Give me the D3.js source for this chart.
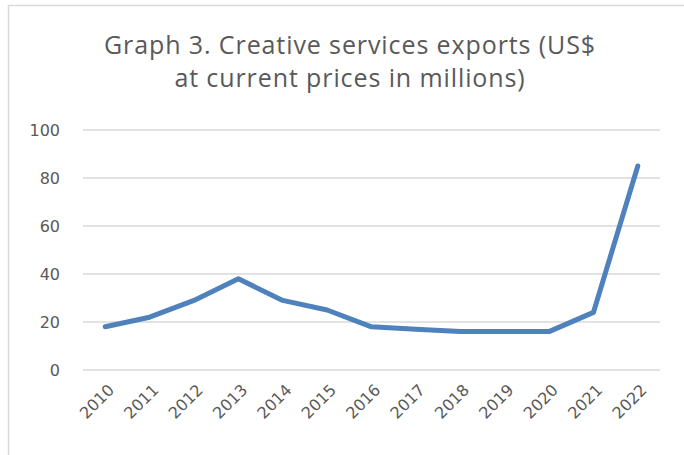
<!DOCTYPE html>
<html>
<head>
<meta charset="utf-8">
<script src="https://cdn.jsdelivr.net/npm/d3@7"></script>
<style>
  html, body { margin: 0; padding: 0; background: #fff; }
  svg { display: block; }
</style>
</head>
<body>
<svg id="chart" width="684" height="455"></svg>
<script>
// Creative services exports, US$ millions at current prices
const years = ["2010","2011","2012","2013","2014","2015","2016","2017","2018","2019","2020","2021","2022"];
const exportsUSD = [18, 22, 29, 38, 29, 25, 18, 17, 16, 16, 16, 24, 85];
const yTicks = [0, 20, 40, 60, 80, 100];
const titleLines = ["Graph 3. Creative services exports (US$", "at current prices in millions)"];

const W = 684, H = 455;
const margin = { left: 83, right: 24, top: 130, bottom: 85 };
const svg = d3.select("#chart");
const titleFont = "'Open Sans', sans-serif";
const tickFont = "'DejaVu Sans', sans-serif";
const textColor = "#595959";

// chart frame
svg.append("rect")
  .attr("x", 8.5).attr("y", 5.5)
  .attr("width", W + 20).attr("height", H + 20)
  .attr("fill", "#fff").attr("stroke", "#d9d9d9").attr("stroke-width", 1.5);

// title
svg.append("text")
  .attr("text-anchor", "middle")
  .attr("font-family", titleFont)
  .attr("font-size", 25)
  .attr("letter-spacing", 0.9)
  .attr("fill", textColor)
  .selectAll("tspan")
  .data(titleLines)
  .join("tspan")
  .attr("x", 350)
  .attr("y", (d, i) => 54 + i * 33)
  .text(d => d);

const x = d3.scaleBand().domain(years).range([margin.left, W - margin.right]);
const y = d3.scaleLinear().domain([0, 100]).range([H - margin.bottom, margin.top]);

// gridlines
svg.append("g")
  .selectAll("line")
  .data(yTicks)
  .join("line")
  .attr("x1", margin.left).attr("x2", W - margin.right)
  .attr("y1", d => y(d)).attr("y2", d => y(d))
  .attr("stroke", "#d9d9d9").attr("stroke-width", 1.5);

// y axis labels
const yAxis = svg.append("g")
  .attr("transform", `translate(${margin.left - 23},0)`)
  .call(d3.axisLeft(y).tickValues(yTicks).tickSize(0).tickPadding(0));
yAxis.select(".domain").remove();
yAxis.selectAll("text")
  .attr("font-family", tickFont).attr("font-size", 16).attr("fill", textColor);

// x axis labels, rotated
const xAxis = svg.append("g")
  .attr("transform", `translate(0,${y(0)})`)
  .call(d3.axisBottom(x).tickSize(0).tickPadding(0));
xAxis.select(".domain").remove();
xAxis.selectAll("text")
  .attr("font-family", tickFont).attr("font-size", 16).attr("fill", textColor)
  .attr("text-anchor", "end")
  .attr("dy", null)
  .attr("transform", "translate(10,21) rotate(-45)");

// series line
const line = d3.line()
  .x((d, i) => x(years[i]) + x.bandwidth() / 2)
  .y(d => y(d));

svg.append("path")
  .datum(exportsUSD)
  .attr("d", line)
  .attr("fill", "none")
  .attr("stroke", "#4f81bd")
  .attr("stroke-width", 5)
  .attr("stroke-linejoin", "round")
  .attr("stroke-linecap", "round");
</script>
</body>
</html>
